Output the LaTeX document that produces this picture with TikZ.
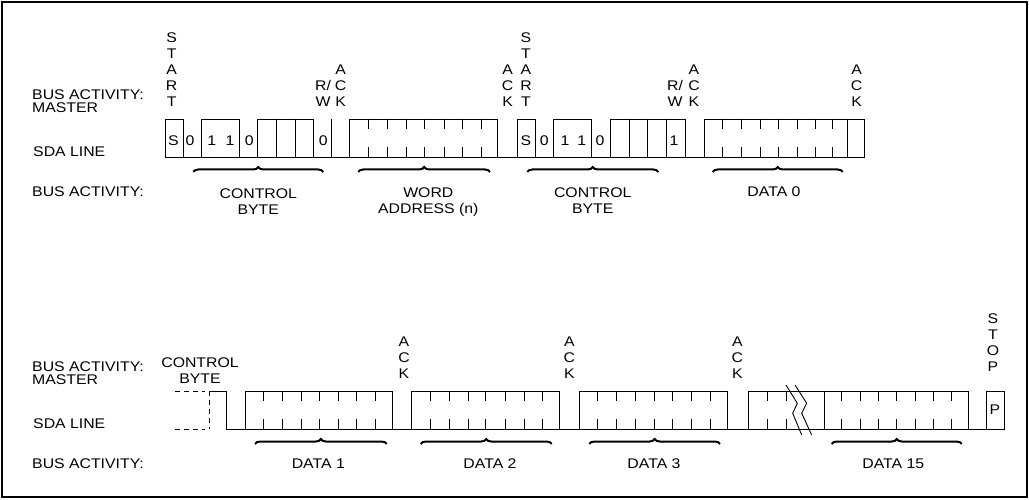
\documentclass[tikz,border=0pt]{standalone}
\usepackage{fontspec}
\setmainfont{Liberation Sans}[FakeStretch=1.13]
\usetikzlibrary{decorations.pathreplacing}

\begin{document}
\begin{tikzpicture}[x=1pt, y=-1pt,
    wave/.style={line width=0.9pt, line join=miter},
    lbl/.style={inner sep=0pt, font=\fontsize{14}{16}\selectfont, align=center, anchor=south, text depth=0pt},
    side/.style={lbl, align=left, anchor=south west},
    brc/.style={decorate, decoration={brace, amplitude=5pt, aspect=0.5}, line width=2pt}
]
\useasboundingbox (0,0) rectangle (1029,500);
\draw[line width=1.5pt] (2,2) rectangle (1027,497);

\node[side, font=\fontsize{14}{12.3}\selectfont] (bam1) at (32,112.3) {BUS ACTIVITY:\\MASTER};
\node[side] (sda1) at (33,156.7) {SDA LINE};
\node[side] (bas1) at (32,196.7) {BUS ACTIVITY:};

\draw[wave] (165,157) -- (165,119) -- (183,119) -- (183,157) -- (201.7,157) -- (201.7,119) -- (239.3,119) -- (239.3,157)
  -- (257.3,157) -- (257.3,119) -- (313.3,119) -- (313.3,157) -- (349.3,157) -- (349.3,119) -- (497.7,119) -- (497.7,157)
  -- (517.7,157) -- (517.7,119) -- (535,119) -- (535,157) -- (553.3,157) -- (553.3,119) -- (591,119) -- (591,157)
  -- (610,157) -- (610,119) -- (685,119) -- (685,157) -- (704.3,157) -- (704.3,119) -- (864,119) -- (864,157) -- cycle;
\foreach \x in {276.7,295,331,629,647.7,666,847.7}
  \draw[wave] (\x,119) -- (\x,157);
\foreach \x in {368.3,387.7,406.7,424.3,444,462.3,481.7,722.3,741.7,760,778.3,797.3,815,832.7}
  \draw[wave] (\x,119) -- ++(0,10) (\x,157) -- ++(0,-10);

\node[lbl] (start1) at (171.7,107) {S\\T\\A\\R\\T};
\node[lbl] (rw1) at (323,107) {R/\\W};
\node[lbl] (ack1) at (340.7,107) {A\\C\\K};
\node[lbl] (ack2) at (507.7,107) {A\\C\\K};
\node[lbl] (start2) at (526,107) {S\\T\\A\\R\\T};
\node[lbl] (rw2) at (675,107) {R/\\W};
\node[lbl] (ack3) at (694,107) {A\\C\\K};
\node[lbl] (ack4) at (856.7,107) {A\\C\\K};

\node[lbl] (s1) at (173.5,145.5) {S};
\node[lbl] (b1) at (190,145.5) {0};
\node[lbl] (b2) at (211.7,145.5) {1};
\node[lbl] (b3) at (230,145.5) {1};
\node[lbl] (b4) at (249.3,145.5) {0};
\node[lbl] (b5) at (323.3,145.5) {0};
\node[lbl] (s2) at (526,145.5) {S};
\node[lbl] (c1) at (544.3,145.5) {0};
\node[lbl] (c2) at (565,145.5) {1};
\node[lbl] (c3) at (581.7,145.5) {1};
\node[lbl] (c4) at (600,145.5) {0};
\node[lbl] (c5) at (674,145.5) {1};

\draw[brc] (193.3,172) -- (323.3,172);
\draw[brc] (358.3,172) -- (490,172);
\draw[brc] (527.3,172) -- (658.3,172);
\draw[brc] (712.7,172) -- (842.7,172);
\node[lbl] (cb1) at (258.3,214.3) {CONTROL\\BYTE};
\node[lbl] (wa) at (428.3,214) {WORD\\ADDRESS (n)};
\node[lbl] (cb2) at (592.7,213.7) {CONTROL\\BYTE};
\node[lbl] (d0) at (774,196.7) {DATA 0};

\node[side, font=\fontsize{14}{12.3}\selectfont] (bam2) at (32,384.3) {BUS ACTIVITY:\\MASTER};
\node[side] (sda2) at (33,428.7) {SDA LINE};
\node[side] (bas2) at (32,468.7) {BUS ACTIVITY:};
\node[lbl] (cb3) at (200,384) {CONTROL\\BYTE};

\draw[wave, dash pattern=on 5pt off 4pt] (175,391) -- (205,391) (209,391) -- (209,429) (175,429) -- (205,429);
\draw[wave] (209,391) -- (226.7,391) -- (226.7,429) -- (245,429) -- (245,391) -- (392.3,391) -- (392.3,429)
  -- (411.7,429) -- (411.7,391) -- (559.7,391) -- (559.7,429) -- (579.3,429) -- (579.3,391) -- (727.7,391) -- (727.7,429)
  -- (748.5,429) -- (748.5,391) -- (968.3,391) -- (968.3,429) -- (986,429) -- (986,391) -- (1004.3,391) -- (1004.3,429)
  -- (226.7,429);
\draw[wave] (824.3,391) -- (824.3,429);
\foreach \x in {263.3,282.3,301,319.3,338.3,356.7,375.7,430,449.3,468.3,485.7,505,524,542.3,
    597.9,616.4,635,654,672.7,691.7,710,767.3,786,841.7,860,878.3,896.7,915.7,933.3,951.7}
  \draw[wave] (\x,391) -- ++(0,10) (\x,429) -- ++(0,-10);
\draw[wave] (786,385) -- (797.3,403.3) -- (792.7,413.3) -- (801.7,435);
\draw[wave] (795,385) -- (806.7,403.3) -- (801.7,413.3) -- (811.7,435);

\node[lbl] (ack5) at (404,378.7) {A\\C\\K};
\node[lbl] (ack6) at (569.3,378.7) {A\\C\\K};
\node[lbl] (ack7) at (737.3,378.7) {A\\C\\K};
\node[lbl] (stop) at (993,371.5) {S\\T\\O\\P};
\node[lbl] (p) at (995,415) {P};

\draw[brc] (255,444) -- (386.7,444);
\draw[brc] (420.7,444) -- (551.7,444);
\draw[brc] (589.3,444) -- (720,444);
\draw[brc] (831.7,444) -- (961.7,444);
\node[lbl] (d1) at (318.3,468.7) {DATA 1};
\node[lbl] (d2) at (490,468.7) {DATA 2};
\node[lbl] (d3) at (654,468.7) {DATA 3};
\node[lbl] (d15) at (893.3,468.7) {DATA 15};
\end{tikzpicture}
\end{document}
